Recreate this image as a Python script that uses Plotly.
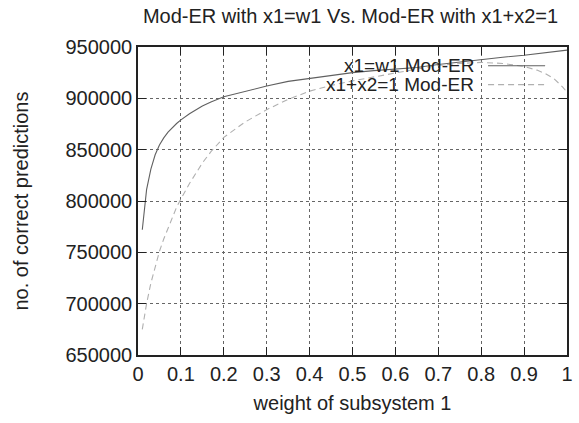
import plotly.graph_objects as go

weights = [0.01, 0.015, 0.02, 0.03, 0.04, 0.05, 0.06, 0.07, 0.08, 0.09, 0.10,
           0.12, 0.15, 0.17, 0.20, 0.25, 0.30, 0.35, 0.40, 0.45, 0.50, 0.55,
           0.60, 0.65, 0.70, 0.75, 0.80, 0.85, 0.90, 0.93, 0.95, 0.97, 0.99, 1.00]

x1_eq_w1 = [772000, 795000, 811000, 831000, 845000, 854500, 861500, 867000,
            871500, 875500, 879000, 885000, 892500, 896500, 901500, 907000,
            912000, 916500, 919500, 922500, 925000, 927000, 928500, 930000,
            933000, 935500, 937500, 940000, 942000, 943500, 944500, 945500,
            946500, 947000]

x1_plus_x2 = [675000, 689000, 700000, 720000, 737000, 751000, 763000, 774000,
              784000, 794000, 802000, 817000, 837000, 848000, 862000, 877000,
              889000, 899000, 907000, 912500, 917000, 921000, 925000, 928500,
              932000, 934000, 935000, 934000, 931000, 927500, 924000, 919000,
              911000, 906000]

series_names = ["x1=w1 Mod-ER", "x1+x2=1 Mod-ER"]
x_ticks = [0, 0.1, 0.2, 0.3, 0.4, 0.5, 0.6, 0.7, 0.8, 0.9, 1]
x_tick_labels = ["0", "0.1", "0.2", "0.3", "0.4", "0.5", "0.6", "0.7", "0.8", "0.9", "1"]
y_ticks = [650000, 700000, 750000, 800000, 850000, 900000, 950000]

FONT = "Liberation Sans, Arial, sans-serif"
solid_color = "#606060"
dash_color = "#b0b0b0"
TXT = "#222"

fig = go.Figure()
fig.add_trace(go.Scatter(x=weights, y=x1_eq_w1, mode="lines", name=series_names[0],
                         line=dict(color=solid_color, width=1.1), showlegend=False))
fig.add_trace(go.Scatter(x=weights, y=x1_plus_x2, mode="lines", name=series_names[1],
                         line=dict(color=dash_color, width=1.1, dash="6px,4px"),
                         showlegend=False))

# legend (text on the left, sample line on the right)
rows = [(0.939, series_names[0], solid_color, None),
        (0.878, series_names[1], dash_color, "6px,4px")]
for yy, name, col, dash in rows:
    fig.add_annotation(xref="paper", yref="paper", x=0.787, y=yy, text=name,
                       showarrow=False, xanchor="right", yanchor="middle",
                       font=dict(family=FONT, size=19, color=TXT))
    fig.add_shape(type="line", xref="paper", yref="paper", x0=0.816, x1=0.949,
                  y0=yy, y1=yy, line=dict(color=col, width=1.1, dash=dash))

axis_common = dict(showline=True, linecolor=TXT, linewidth=1.5, mirror="allticks",
                   ticks="inside", ticklen=8, tickwidth=1.2, tickcolor=TXT,
                   showgrid=True, gridcolor="#666", gridwidth=1, griddash="dot",
                   zeroline=False, automargin=False,
                   tickfont=dict(family=FONT, size=20, color=TXT))

fig.update_xaxes(range=[0, 1], tickmode="array", tickvals=x_ticks, ticktext=x_tick_labels,
                 title=dict(text="weight of subsystem 1", standoff=12,
                            font=dict(family=FONT, size=20, color=TXT)),
                 **axis_common)
fig.update_yaxes(range=[650000, 950000], tickmode="array", tickvals=y_ticks,
                 ticktext=[str(v) for v in y_ticks],
                 title=dict(text="no. of correct predictions", standoff=32,
                            font=dict(family=FONT, size=20, color=TXT)),
                 **axis_common)

fig.update_layout(
    width=579, height=423,
    margin=dict(l=138, r=12, t=47, b=68, autoexpand=False),
    paper_bgcolor="white", plot_bgcolor="white",
    title=dict(text="Mod-ER with x1=w1 Vs. Mod-ER with x1+x2=1", x=0.6054, xanchor="center",
               y=0.978, yanchor="top",
               font=dict(family=FONT, size=20, color=TXT)),
    font=dict(family=FONT, size=20, color=TXT),
)

fig.write_html("out.html", config={"displayModeBar": False},
               post_script="document.body.style.margin='0px';document.body.style.padding='0px';")
